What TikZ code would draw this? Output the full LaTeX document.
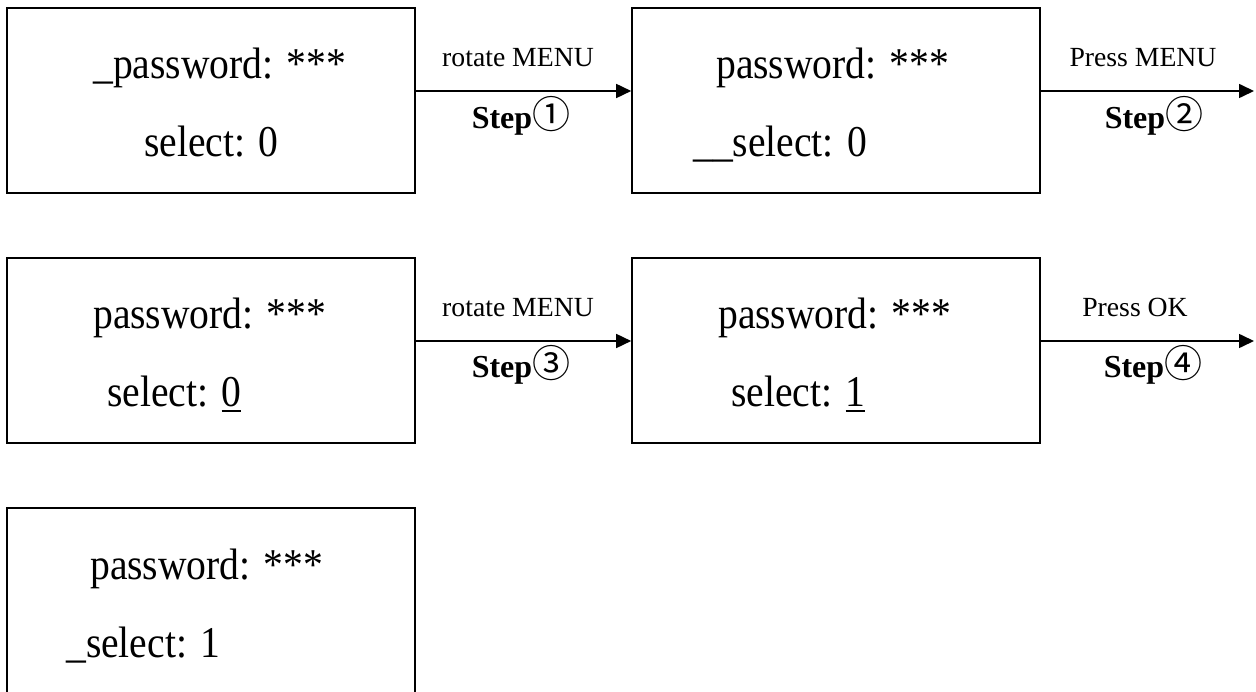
\documentclass[tikz,border=0pt]{standalone}
\usepackage{fontspec}
\setmainfont{Liberation Serif}
\newfontfamily\boxfont[FakeStretch=0.9]{Liberation Serif}
\newfontfamily\circfont{Noto Sans CJK SC}
\usetikzlibrary{arrows.meta}
\newcommand\ulnum[1]{\vtop{\hbox{#1}\kern 3pt\hrule height 2pt}}
\tikzset{
  screen/.style={draw, line width=1.6pt, minimum width=408pt, minimum height=185pt, inner sep=0pt},
  boxtext/.style={inner sep=0pt, anchor=base west, font=\boxfont\fontsize{44}{50}\selectfont},
  actlabel/.style={inner sep=0pt, anchor=base, font=\fontsize{27.7}{32}\selectfont},
  steplabel/.style={inner sep=0pt, anchor=base, font=\bfseries\fontsize{32}{38}\selectfont},
  flow/.style={line width=1.6pt, -{Triangle[length=15pt,width=14pt]}}
}
\newcommand\circnum[1]{{\circfont\fontsize{38}{40}\selectfont\mdseries #1}}
\begin{document}
\begin{tikzpicture}[x=1pt,y=-1pt]
\clip (0,0) rectangle (1256,692);
\useasboundingbox (0,0) rectangle (1256,692);
% boxes
\node[screen] (b1) at (211,100.5) {};
\node[screen] (b2) at (836,100.5) {};
\node[screen] (b3) at (211,350.5) {};
\node[screen] (b4) at (836,350.5) {};
\node[screen] (b5) at (211,600.5) {};
% texts
\node[boxtext] (t1a) at (93,79) {\_password: ***};
\node[boxtext] (t1b) at (144,157) {select: 0};
\node[boxtext] (t2a) at (716,79) {password: ***};
\node[boxtext] (t2b) at (693,157) {\_\_select: 0};
\node[boxtext] (t3a) at (93,329) {password: ***};
\node[boxtext] (t3b) at (107,407) {select: \ulnum{0}};
\node[boxtext] (t4a) at (718,329) {password: ***};
\node[boxtext] (t4b) at (731,407) {select: \ulnum{1}};
\node[boxtext] (t5a) at (90,579) {password: ***};
\node[boxtext] (t5b) at (66,657) {\_select: 1};
% connectors
\coordinate (e2) at (1254,91);
\coordinate (e4) at (1254,341);
\draw[flow] ([yshift=9.5pt]b1.east) -- ([yshift=9.5pt]b2.west);
\draw[flow] ([yshift=9.5pt]b2.east) -- (e2);
\draw[flow] ([yshift=9.5pt]b3.east) -- ([yshift=9.5pt]b4.west);
\draw[flow] ([yshift=9.5pt]b4.east) -- (e4);
% labels
\node[actlabel] (l1) at (518,67) {rotate MENU};
\node[steplabel] (s1) at (521,129) {Step\circnum{①}};
\node[actlabel] (l2) at (1143,67) {Press MENU};
\node[steplabel] (s2) at (1154,129) {Step\circnum{②}};
\node[actlabel] (l3) at (518,317) {rotate MENU};
\node[steplabel] (s3) at (521,378) {Step\circnum{③}};
\node[actlabel] (l4) at (1135,317) {Press OK};
\node[steplabel] (s4) at (1153,378) {Step\circnum{④}};
\end{tikzpicture}
\end{document}
